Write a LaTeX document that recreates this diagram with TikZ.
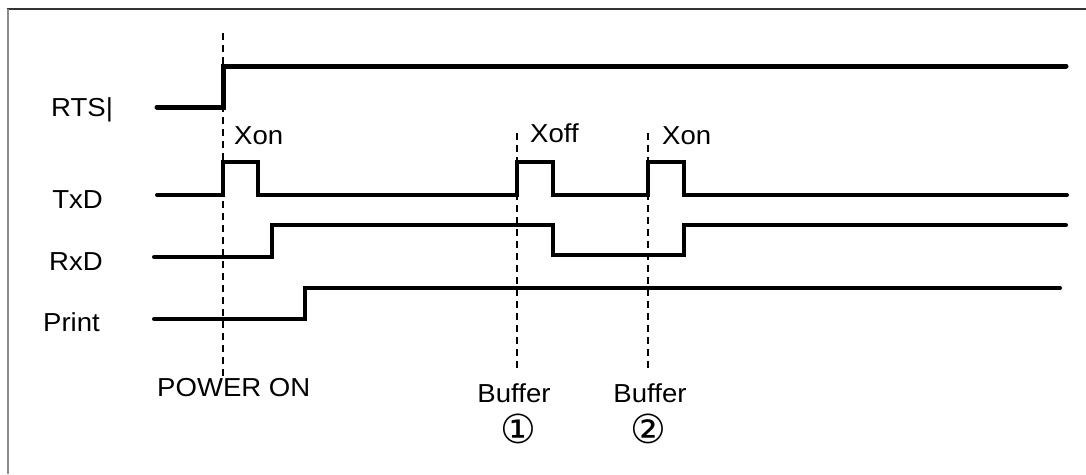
\documentclass[tikz,border=0pt]{standalone}
\usepackage{fontspec}
\setmainfont{Liberation Sans}
\newfontfamily\symfont{DejaVu Sans}
\begin{document}
\begin{tikzpicture}[x=1pt,y=-1pt,
  sig/.style={line width=4pt,line join=miter,line cap=round},
  rtssig/.style={line width=5pt,line join=miter,line cap=round},
  guide/.style={line width=1.3pt,dash pattern=on 7pt off 5pt},
  lbl/.style={inner sep=0pt,font=\fontsize{26}{30}\selectfont,xscale=1.06},
  circ/.style={inner sep=0pt,font=\symfont\fontsize{40}{44}\selectfont}]
\useasboundingbox (0,0) rectangle (1086,474);
\fill[white] (0,0) rectangle (1086,474);
% frame
\draw[line width=1.2pt,color=black!80] (7,9) -- (1086,9);
\draw[line width=2pt,color=black!45] (8,9) -- (8,474);
% guide lines
\draw[guide] (223,33) -- (223,376);
\draw[guide] (517,133) -- (517,370);
\draw[guide] (648,133) -- (648,370);
% signals
\draw[rtssig] (157,107) -- (223,107) -- (223,66) -- (1066,66);
\draw[sig] (157,195) -- (223,195) -- (223,162) -- (258,162) -- (258,195)
  -- (517,195) -- (517,162) -- (553,162) -- (553,195)
  -- (648,195) -- (648,162) -- (684,162) -- (684,195) -- (1067,195);
\draw[sig] (154,257) -- (272,257) -- (272,225) -- (553,225) -- (553,255)
  -- (684,255) -- (684,225) -- (1066,225);
\draw[sig] (154,319) -- (305,319) -- (305,288) -- (1060,288);
% labels
\node[lbl,anchor=base west] (rts) at (51,116) {RTS|};
\node[lbl,anchor=base east] (txd) at (103,208) {TxD};
\node[lbl,anchor=base east] (rxd) at (103,270) {RxD};
\node[lbl,anchor=base east] (prn) at (100,331) {Print};
\node[lbl,anchor=base west] (xon1) at (234,144) {Xon};
\node[lbl,anchor=base west] (xoff) at (530,142) {Xoff};
\node[lbl,anchor=base west] (xon2) at (662,144) {Xon};
\node[lbl,anchor=base west] (pwr) at (157,396) {POWER ON};
\node[lbl,anchor=base] (buf1) at (514,402) {Buffer};
\node[lbl,anchor=base] (buf2) at (650,402) {Buffer};
\node[circ,anchor=base] (c1) at (518,443) {①};
\node[circ,anchor=base] (c2) at (648,443) {②};
\end{tikzpicture}
\end{document}
